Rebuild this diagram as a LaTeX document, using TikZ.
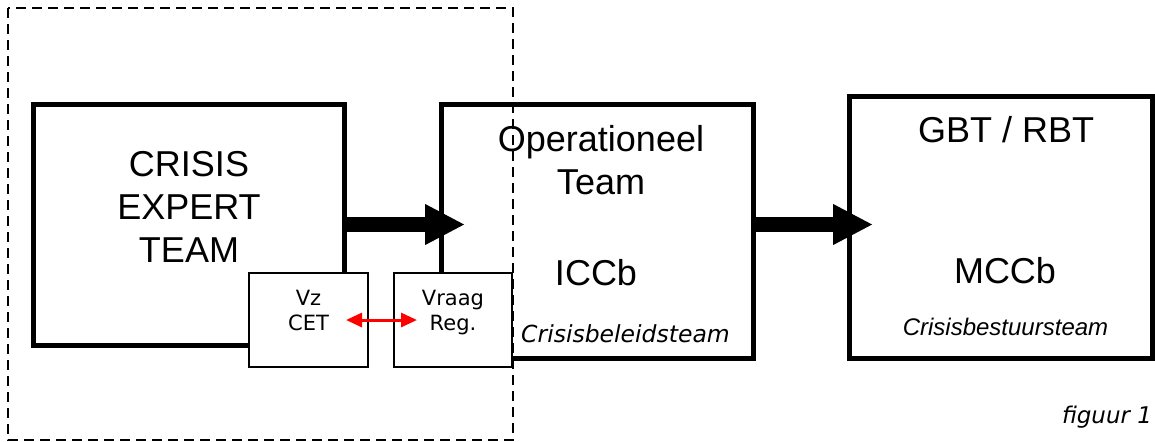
\documentclass[tikz,border=0pt]{standalone}
\usepackage{fontspec}
\setmainfont{Liberation Sans}
\newfontfamily\verdana{DejaVu Sans}
\usetikzlibrary{arrows.meta,positioning}

\begin{document}
\begin{tikzpicture}[x=0.5pt, y=-0.5pt,
  bigbox/.style={draw, line width=2.5pt, fill=white, inner sep=0pt},
  smallbox/.style={draw, line width=1pt, fill=white, inner sep=0pt, minimum width=59.5pt, minimum height=47pt},
  bigarrow/.style={line width=7.5pt, -{Triangle[length=20pt,width=19pt]}, shorten >=-13.25pt},
  redarrow/.style={red, line width=1.5pt, {Triangle[length=8pt,width=7pt]}-{Triangle[length=8pt,width=7pt]}},
  bigtext/.style={inner sep=0pt, anchor=base, align=center, font=\fontsize{18pt}{21.5pt}\selectfont},
  smalltext/.style={inner sep=0pt, anchor=base, align=center, font=\verdana\fontsize{10.5pt}{12.5pt}\selectfont}]

\useasboundingbox (0,0) rectangle (1155,441);

% Teams
\node[bigbox, minimum width=155.5pt, minimum height=120.5pt] (cet) at (188.5,224.5) {};
\node[bigbox, minimum width=156pt, minimum height=127pt] (op) at (597,231) {};
\node[bigbox, minimum width=151.5pt, minimum height=131pt] (gbt) at (1000.5,227) {};

% Teksten in de teams
\node[bigtext] (cettxt) at (189,262) {CRISIS\\EXPERT\\TEAM};
\node[bigtext] (optxt) at (601,194) {Operationeel\\Team};
\node[bigtext] (icc) at (596,285) {ICCb};
\node[bigtext] (gbttxt) at (1006,142) {GBT / RBT};
\node[bigtext] (mcc) at (1005,283) {MCCb};
\node[inner sep=0pt, anchor=base, font=\verdana\itshape\fontsize{11.75pt}{14pt}\selectfont] (cbt) at (625.5,342) {Crisisbeleidsteam};
\node[inner sep=0pt, anchor=base, font=\itshape\fontsize{12pt}{14pt}\selectfont] (cbst) at (1005.5,335) {Crisisbestuursteam};

% Pijlen tussen de teams
\draw[bigarrow] (cet.east) -- (cet.east -| op.west);
\draw[bigarrow] (cet.east -| op.east) -- (cet.east -| gbt.west);

% Kleine vakjes
\node[smallbox] (vz) at (308.5,320) {};
\node[smallbox, minimum width=59pt] (vraag) at (453,320) {};
\node[smalltext] (vztxt) at (308.5,330) {Vz\\CET};
\node[smalltext] (vraagtxt) at (453,330) {Vraag\\Reg.};
\draw[redarrow, shorten <=-11.5pt, shorten >=-12pt] (vz.east) -- (vraag.west);

% Gestippeld kader
\draw[dashed, line width=1pt, dash pattern=on 5pt off 3pt] (8,8) rectangle (513,440);

\node[inner sep=0pt, anchor=base, font=\verdana\itshape\fontsize{11.5pt}{14pt}\selectfont] (fig) at (1107,423) {figuur 1};

\end{tikzpicture}
\end{document}
